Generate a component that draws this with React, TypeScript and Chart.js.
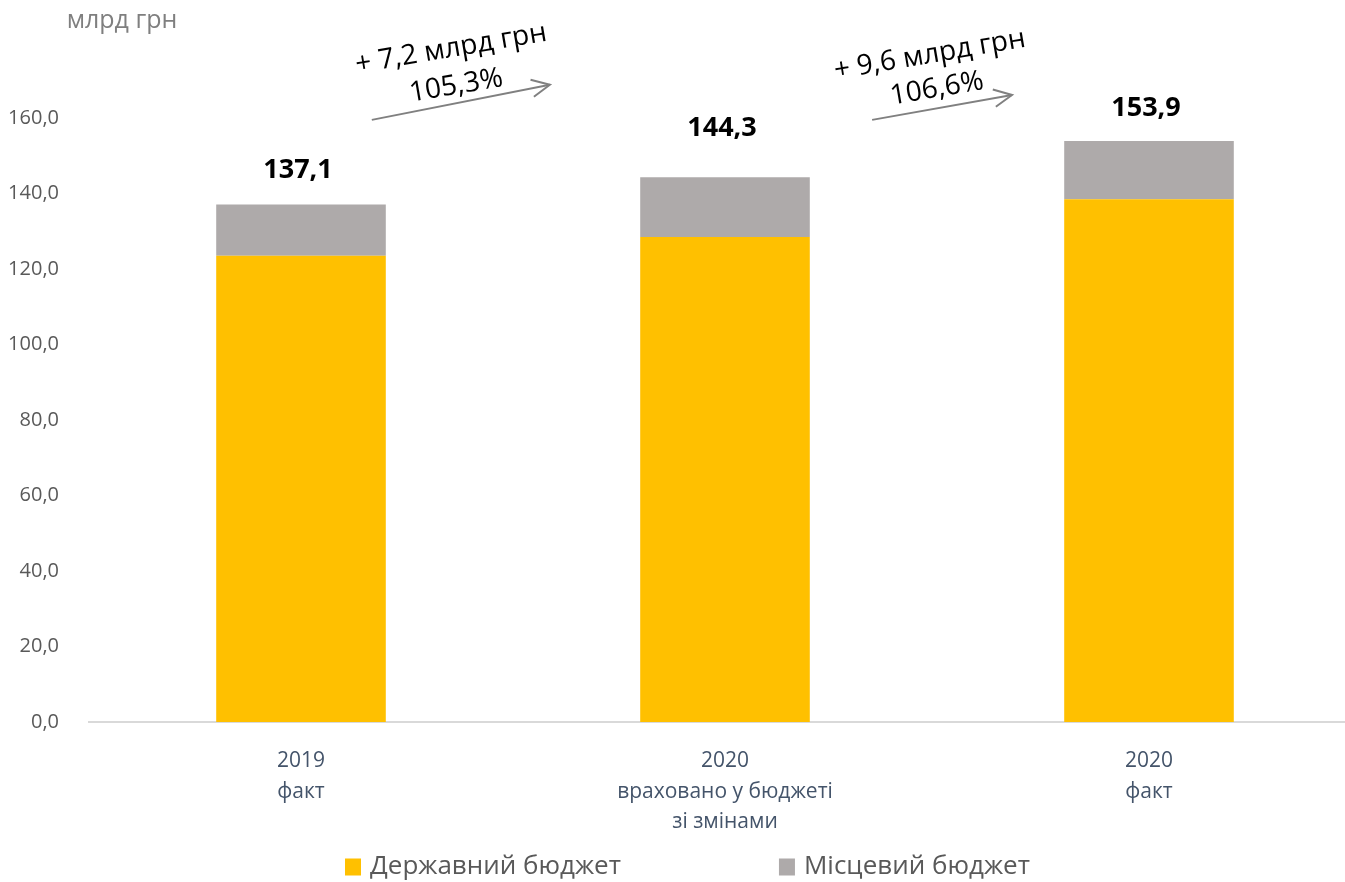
import React, { useEffect, useRef } from "react";
import { Chart, registerables } from "chart.js";

Chart.register(...registerables);

const categories: string[][] = [
  ["2019", "факт"],
  ["2020", "враховано у бюджеті", "зі змінами"],
  ["2020", "факт"],
];
const seriesNames = ["Державний бюджет", "Місцевий бюджет"];
const stateBudget = [123.5, 128.5, 138.5];
const localBudget = [13.6, 15.8, 15.4];
const totals = [137.1, 144.3, 153.9];
const unitLabel = "млрд грн";
const growthTexts: string[][] = [
  ["+ 7,2 млрд грн", "105,3%"],
  ["+ 9,6 млрд грн", "106,6%"],
];
// arrows in data coordinates: [x0, y0, x1, y1] (x = category index)
const growthArrows: number[][] = [
  [0.167, 159.5, 0.587, 168.8],
  [1.347, 159.5, 1.677, 166.1],
];
// text anchors in data coordinates [x1, y1, x2, y2] (line 1, line 2)
const growthTextPos: number[][] = [
  [0.354, 178.3, 0.366, 168.5],
  [1.483, 176.7, 1.5, 167.7],
];
const yMax = 160;
const yStep = 20;

const COLORS = ["#FFC000", "#AEAAAA"];
const FONT = "'Open Sans', 'Noto Sans', sans-serif";
const labelOffsets = [34, 49, 33];

const fmt = (v: number) => v.toFixed(1).replace(".", ",");

const overlayPlugin = {
  id: "overlay",
  afterDraw(chart: any) {
    const { ctx, scales } = chart;
    const xs = scales.x;
    const ys = scales.y;
    ctx.save();

    // unit label
    ctx.fillStyle = "#7f7f7f";
    ctx.font = `25px ${FONT}`;
    ctx.textAlign = "center";
    ctx.textBaseline = "middle";
    ctx.fillText(unitLabel, 122, 21);

    // totals
    ctx.fillStyle = "#000000";
    ctx.font = `bold 27px ${FONT}`;
    totals.forEach((t, i) => {
      const x = xs.getPixelForValue(i);
      const y = ys.getPixelForValue(t);
      ctx.fillText(fmt(t), x - 3, y - labelOffsets[i]);
    });

    // arrows
    ctx.strokeStyle = "#808080";
    ctx.lineWidth = 2;
    growthArrows.forEach(([x0, y0, x1, y1]) => {
      const px0 = xs.getPixelForValue(x0);
      const py0 = ys.getPixelForValue(y0);
      const px1 = xs.getPixelForValue(x1);
      const py1 = ys.getPixelForValue(y1);
      ctx.beginPath();
      ctx.moveTo(px0, py0);
      ctx.lineTo(px1, py1);
      ctx.stroke();
      const ang = Math.atan2(py1 - py0, px1 - px0);
      const L = 20;
      ctx.beginPath();
      ctx.moveTo(px1 - L * Math.cos(ang - 0.45), py1 - L * Math.sin(ang - 0.45));
      ctx.lineTo(px1, py1);
      ctx.lineTo(px1 - L * Math.cos(ang + 0.45), py1 - L * Math.sin(ang + 0.45));
      ctx.stroke();
    });

    // growth texts
    ctx.fillStyle = "#000000";
    ctx.font = `28px ${FONT}`;
    growthTexts.forEach((lines, i) => {
      const [gx1, gy1, gx2, gy2] = growthTextPos[i];
      [
        [gx1, gy1],
        [gx2, gy2],
      ].forEach(([gx, gy], j) => {
        const px = xs.getPixelForValue(gx);
        const py = ys.getPixelForValue(gy);
        ctx.save();
        ctx.translate(px, py);
        ctx.rotate(-0.17);
        ctx.fillText(lines[j], 0, 0);
        ctx.restore();
      });
    });

    // legend
    ctx.font = `26px ${FONT}`;
    ctx.textAlign = "left";
    const boxW = 16;
    const boxH = 17;
    const gapText = 9;
    const gapItems = 158;
    const widths = seriesNames.map((n) => boxW + gapText + ctx.measureText(n).width);
    let lx = 345;
    const ly = 867;
    seriesNames.forEach((n, i) => {
      ctx.fillStyle = COLORS[i];
      ctx.fillRect(lx, ly - boxH / 2, boxW, boxH);
      ctx.fillStyle = "#595959";
      ctx.fillText(n, lx + boxW + gapText, ly);
      lx += widths[i] + gapItems;
    });

    ctx.restore();
  },
};

export default function App() {
  const canvasRef = useRef<HTMLCanvasElement | null>(null);

  useEffect(() => {
    if (!canvasRef.current) return;
    const chart = new Chart(canvasRef.current, {
      type: "bar",
      data: {
        labels: categories as any,
        datasets: [
          {
            label: seriesNames[0],
            data: stateBudget,
            backgroundColor: COLORS[0],
            barPercentage: 0.4,
            categoryPercentage: 1,
          },
          {
            label: seriesNames[1],
            data: localBudget,
            backgroundColor: COLORS[1],
            barPercentage: 0.4,
            categoryPercentage: 1,
          },
        ],
      },
      options: {
        animation: false,
        responsive: true,
        maintainAspectRatio: false,
        layout: { padding: { top: 118, right: 4, left: 0, bottom: 0 } },
        plugins: {
          legend: { display: false },
          tooltip: { enabled: false },
        },
        scales: {
          x: {
            stacked: true,
            grid: { display: false },
            border: { display: true, color: "#d9d9d9", width: 2 },
            ticks: {
              color: "#44546A",
              font: { family: FONT, size: 21, lineHeight: 1.45 },
              padding: 16,
              maxRotation: 0,
              autoSkip: false,
            },
            afterFit: (s: any) => {
              s.height = 160;
            },
          },
          y: {
            stacked: true,
            min: 0,
            max: yMax,
            grid: { display: false },
            border: { display: false },
            ticks: {
              stepSize: yStep,
              color: "#595959",
              font: { family: FONT, size: 20 },
              padding: 22,
              callback: (v: any) => fmt(Number(v)),
            },
            afterFit: (s: any) => {
              s.width = 89;
            },
          },
        },
      },
      plugins: [overlayPlugin],
    });
    return () => chart.destroy();
  }, []);

  return (
    <div
      style={{
        position: "absolute",
        left: 0,
        top: 0,
        width: 1345,
        height: 882,
        overflow: "hidden",
        background: "#ffffff",
      }}
    >
      <div style={{ position: "relative", width: 1365, height: 882 }}>
        <canvas ref={canvasRef} />
      </div>
    </div>
  );
}
